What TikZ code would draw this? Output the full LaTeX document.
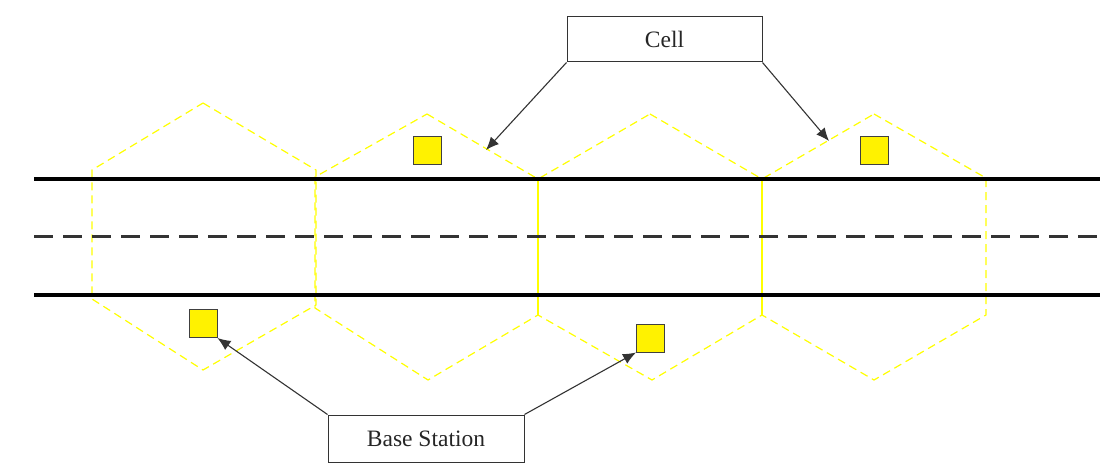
\documentclass[tikz,border=0pt]{standalone}
\usepackage{fontspec}
\setmainfont{Liberation Serif}
\usetikzlibrary{arrows.meta}
\definecolor{hexyellow}{HTML}{FFFF00}
\definecolor{linegray}{HTML}{333333}
\tikzset{
  hexdash/.style={draw=hexyellow, line width=1.2pt, dash pattern=on 8pt off 5pt},
  hexsolid/.style={draw=hexyellow, line width=1.2pt},
  road/.style={draw=black, line width=4pt},
  midline/.style={draw=linegray, line width=3pt, dash pattern=on 19pt off 10pt},
  bsq/.style={draw=black!75, fill=yellow, line width=1pt, minimum width=28pt, minimum height=28pt, inner sep=0pt},
  labelbox/.style={draw=black!80, fill=white, line width=1pt, inner sep=0pt, text=black!85, font=\fontsize{23.5}{28}\selectfont},
  pointer/.style={draw=linegray, line width=1.1pt, -{Latex[length=13pt,width=11pt]}},
}
\begin{document}
\begin{tikzpicture}[x=1pt, y=-1pt]
\useasboundingbox (0,0) rectangle (1110,470);
% hexagonal cells
\draw[hexdash] (203,103) -- (316,170) -- (316,305) -- (203,370) -- (92,299) -- (92,170) -- cycle;
\draw[hexdash] (427,114) -- (538,179) -- (538,315) -- (428,380) -- (315,308) -- (315,177) -- cycle;
\draw[hexdash] (650,114) -- (762,179) -- (762,315) -- (652,380) -- (538,315) -- (538,179) -- cycle;
\draw[hexdash] (874,114) -- (986,178) -- (986,315) -- (874,380) -- (762,315) -- (762,179) -- cycle;
\draw[hexsolid] (538,179) -- (538,315);
\draw[hexsolid] (762,179) -- (762,315);
% road
\draw[road] (34,179.5) -- (1100,179.5);
\draw[road] (34,294.5) -- (1100,294.5);
\draw[midline] (34,236.5) -- (1100,236.5);
% base stations
\node[bsq] (bs1) at (203,323.5) {};
\node[bsq] (bs2) at (427.5,150.5) {};
\node[bsq] (bs3) at (650.5,338) {};
\node[bsq] (bs4) at (874.5,150.5) {};
% labels
\node[labelbox, minimum width=195pt, minimum height=45pt] (cell) at (664.5,39.5) {Cell};
\node[labelbox, minimum width=196pt, minimum height=47pt] (bsl) at (426,438.5) {Base Station};
% pointer targets on cell edges
\coordinate (c2edge) at (486,150);
\coordinate (c4edge) at (829,141);
% pointers
\draw[pointer] (cell.south west) -- (c2edge);
\draw[pointer] (cell.south east) -- (c4edge);
\draw[pointer] (bsl.north west) -- (bs1.south east);
\draw[pointer] (bsl.north east) -- (bs3.south west);
\end{tikzpicture}
\end{document}
